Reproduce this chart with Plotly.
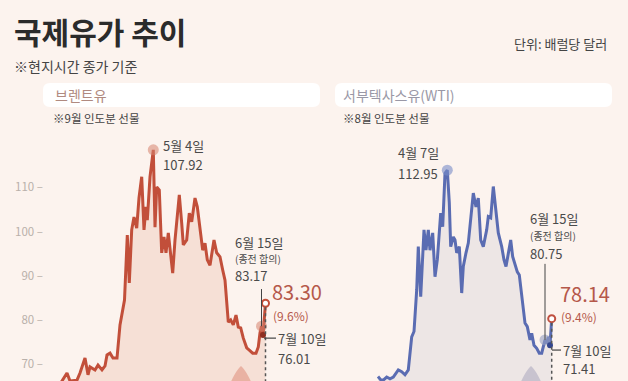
import plotly.graph_objects as go

W, H = 628, 381

# ---- data (x = horizontal trading-day position, y = USD per barrel) ----
brent_x = [11, 19, 23, 26, 33, 36, 41, 44, 46, 51, 54, 58, 61, 63, 66, 69, 73, 76, 78, 80.5,
           83.3, 85.3, 87.7, 90, 92.7, 95, 97.7, 100, 102, 103.3, 106, 109.3, 111, 112.7, 115.3,
           117.7, 120, 122, 124.3, 126.7, 128.7, 131, 135.3, 137.7, 139.3, 142.7, 145.3, 147.7,
           151, 153.3, 156, 158.7, 161, 163.3, 166, 170, 172.7, 176, 178.7, 181, 184.3, 186.7,
           189.3, 192, 194.3, 196.7, 199.3, 202.7, 205.3, 208.7, 212, 214.3, 216, 217.5, 219, 221.5]
brent_y = [63.7, 66.4, 68.0, 66.2, 66.4, 68.0, 71.4, 67.6, 69.4, 68.7, 69.8, 68.7, 69.6, 72.1, 72.5,
           71.4, 71.4, 78.9, 81.8, 84.5, 99.2, 88.4, 100.4, 103.3, 100.8, 107.6, 112.4, 100.4, 105.6,
           102.6, 112.4, 118.5, 101.0, 110.1, 109.4, 95.2, 98.8, 95.2, 99.7, 95.2, 90.6, 98.1, 108.3,
           101.9, 97.0, 98.1, 104.2, 102.2, 107.6, 105.6, 100.4, 95.8, 97.4, 93.6, 92.4, 98.1, 95.2,
           94.3, 91.3, 89.0, 79.5, 80.0, 78.9, 81.1, 78.4, 78.2, 75.9, 73.7, 73.2, 72.5, 72.5, 73.9,
           77.1, 78.6, 76.6, 83.8]

wti_x = [43, 46, 48.3, 51.7, 55, 58.3, 63.3, 66.7, 70, 73.3, 76.7, 79, 81.7, 83.3, 85.7, 87.7, 89,
         91, 93.3, 95, 97.7, 100, 102.3, 105.7, 107.7, 110, 112.3, 114.3, 115.7, 118.3, 120, 121.7,
         124.3, 126.7, 128.3, 131, 133.3, 138.3, 141, 143.3, 145.7, 148.3, 151.7, 153.3, 155.7,
         158.3, 160.7, 163.3, 166.7, 169, 171, 173.3, 175.7, 177.7, 180, 182.3, 184.3, 186.7, 190,
         192.3, 195, 196.7, 199, 201.7, 204.3, 206.7, 208.3, 210, 211.7, 213.3, 215, 216.7]
wti_y = [67.2, 66.4, 66.4, 67.1, 66.7, 67.1, 68.7, 68.3, 67.6, 68.7, 76.2, 77.4, 86.8, 96.6, 85.3,
         95.2, 100.4, 95.8, 100.4, 95.8, 99.7, 89.8, 93.6, 104.2, 101.1, 113.2, 113.9, 106.5, 96.6,
         98.8, 98.1, 95.2, 96.6, 86.1, 92.1, 95.2, 97.4, 108.7, 105.6, 107.6, 98.1, 96.6, 100.4,
         103.4, 103.1, 110.2, 105.6, 99.7, 96.6, 93.6, 92.1, 95.2, 98.1, 94.3, 92.8, 90.9, 90.2,
         85.3, 79.3, 78.5, 75.5, 77.0, 74.3, 73.6, 72.5, 72.5, 74.0, 75.5, 74.7, 76.2, 74.3, 80.3]

# highlighted points: peak, 6/15 (ceasefire), 7/10, latest
brent_peak = (109.3, 118.5)
brent_jun15 = (217.5, 78.6)
brent_jul10 = (219, 76.6)
brent_last = (221.5, 83.8)
wti_peak = (112.3, 113.9)
wti_jun15 = (210, 75.5)
wti_jul10 = (215, 74.3)
wti_last = (216.7, 80.3)

y_tick_vals = [70, 80, 90, 100, 110]
y_tick_text = [f"{v} –" for v in y_tick_vals]

BG = "#fcf3ee"
BRENT = "#c24f3a"
BRENT_FILL = "#f6e0d6"
WTI = "#5a6cb2"
WTI_FILL = "#ede6e5"
TXT = "#4a4a4a"
RED_TXT = "#b5584a"
FONT = "Noto Sans CJK KR"


def px(x):
    return x / W


def py(y):
    return 1 - y / H


fig = go.Figure()

fig.add_trace(go.Scatter(x=brent_x, y=brent_y, mode="lines", fill="tozeroy",
                         fillcolor=BRENT_FILL, line=dict(color=BRENT, width=3),
                         xaxis="x", yaxis="y", hoverinfo="skip"))
fig.add_trace(go.Scatter(x=wti_x, y=wti_y, mode="lines", fill="tozeroy",
                         fillcolor=WTI_FILL, line=dict(color=WTI, width=3),
                         xaxis="x2", yaxis="y2", hoverinfo="skip"))


def pt(p, xa, ya, color, size, line_color=None, symbol="circle"):
    fig.add_trace(go.Scatter(x=[p[0]], y=[p[1]], mode="markers", xaxis=xa, yaxis=ya,
                             marker=dict(color=color, size=size, symbol=symbol,
                                         line=dict(color=line_color or color, width=2 if line_color else 0)),
                             hoverinfo="skip"))


pt(brent_peak, "x", "y", "rgba(214,130,110,0.55)", 11)
pt(brent_jun15, "x", "y", "rgba(214,130,110,0.55)", 11)
pt(brent_jul10, "x", "y", "#8e2f22", 6)
pt(brent_last, "x", "y", "white", 7, BRENT)
pt(wti_peak, "x2", "y2", "rgba(120,140,200,0.6)", 11)
pt(wti_jun15, "x2", "y2", "rgba(150,160,195,0.6)", 11)
pt(wti_jul10, "x2", "y2", "#34468e", 6)
pt(wti_last, "x2", "y2", "white", 7, "#c05040")

shapes = []


def rbox(x0, y0, x1, y1, r, color):
    X0, X1 = px(x0), px(x1)
    Y0, Y1 = py(y1), py(y0)
    rx, ry = r / W, r / H
    path = (f"M {X0+rx},{Y0} L {X1-rx},{Y0} Q {X1},{Y0} {X1},{Y0+ry} L {X1},{Y1-ry} "
            f"Q {X1},{Y1} {X1-rx},{Y1} L {X0+rx},{Y1} Q {X0},{Y1} {X0},{Y1-ry} "
            f"L {X0},{Y0+ry} Q {X0},{Y0} {X0+rx},{Y0} Z")
    shapes.append(dict(type="path", path=path, xref="paper", yref="paper",
                       fillcolor=color, line=dict(width=0), layer="below"))


rbox(43, 83, 320, 107, 7, "white")
rbox(335, 83, 612, 107, 7, "white")


def drop(cx, color):
    pts = [(cx - 11, 384), (cx - 7, 374), (cx - 3, 369), (cx, 366), (cx + 3, 369), (cx + 7, 374), (cx + 11, 384)]
    path = f"M {px(pts[0][0])},{py(pts[0][1])} C {px(pts[1][0])},{py(pts[1][1])} {px(pts[2][0])},{py(pts[2][1])} {px(pts[3][0])},{py(pts[3][1])} " \
           f"C {px(pts[4][0])},{py(pts[4][1])} {px(pts[5][0])},{py(pts[5][1])} {px(pts[6][0])},{py(pts[6][1])} Z"
    shapes.append(dict(type="path", path=path, xref="paper", yref="paper",
                       fillcolor=color, line=dict(width=0)))


drop(241, "#e9b2a3")
drop(531, "#c8c3cf")

# connector / guide lines
shapes.append(dict(type="line", xref="x", yref="y", x0=brent_jun15[0], x1=brent_jun15[0], y0=87.0, y1=brent_jun15[1],
                   line=dict(color="#444", width=1)))
shapes.append(dict(type="line", xref="x2", yref="y2", x0=wti_jun15[0], x1=wti_jun15[0], y0=92.7, y1=wti_jun15[1],
                   line=dict(color="#444", width=1)))
shapes.append(dict(type="line", xref="x", yref="y", x0=brent_last[0], x1=brent_last[0], y0=brent_last[1] - 0.9, y1=55,
                   line=dict(color="#555", width=1.5, dash="dot")))
shapes.append(dict(type="line", xref="x2", yref="y2", x0=wti_last[0], x1=wti_last[0], y0=wti_last[1] - 0.9, y1=55,
                   line=dict(color="#555", width=1.5, dash="dot")))
shapes.append(dict(type="line", xref="x", yref="y", x0=brent_jul10[0] + 1, x1=232, y0=75.9, y1=75.9,
                   line=dict(color="#444", width=1.2)))
shapes.append(dict(type="line", xref="x2", yref="y2", x0=wti_jul10[0] + 2, x1=226, y0=73.2, y1=73.2,
                   line=dict(color="#444", width=1.2)))

ann = []


def txt(s, x, y, size, color=TXT, anchor="left", bold=False, family=FONT):
    ann.append(dict(text=f"<b>{s}</b>" if bold else s, x=px(x), y=py(y), xref="paper", yref="paper",
                    xanchor=anchor, yanchor="middle", showarrow=False,
                    font=dict(size=size, color=color, family=family)))


txt("국제유가 추이", 12, 31, 30, "#2b2b2b", bold=True)
txt("※현지시간 종가 기준", 12, 66, 14, "#444")
txt("단위: 배럴당 달러", 609, 44, 13, "#444", anchor="right")
txt("브렌트유", 53, 95, 14, "#b08a80")
txt("서부텍사스유(WTI)", 341, 95, 14, "#9a98a6")
txt("※9월 인도분 선물", 51, 118, 11.5, "#444")
txt("※8월 인도분 선물", 341, 118, 11.5, "#444")

txt("5월 4일", 161, 145, 13)
txt("107.92", 161, 164, 13)
txt("6월 15일", 233, 242, 13)
txt("(종전 합의)", 233, 258.5, 10)
txt("83.17", 233, 275, 13)
txt("83.30", 270, 291, 20, RED_TXT)
txt("(9.6%)", 271, 315, 12, RED_TXT)
txt("7월 10일", 276, 338, 13)
txt("76.01", 276, 358, 13)

txt("4월 7일", 396, 153, 13)
txt("112.95", 396, 173, 13)
txt("6월 15일", 528, 218, 13)
txt("(종전 합의)", 528, 235, 10)
txt("80.75", 528, 253, 13)
txt("78.14", 558, 293, 20, RED_TXT)
txt("(9.4%)", 559, 316, 12, RED_TXT)
txt("7월 10일", 561, 350, 13)
txt("71.41", 561, 368, 13)

axis_off = dict(showgrid=False, zeroline=False, showline=False, showticklabels=False, ticks="")
yrange = [66.2, 152.4]

fig.update_layout(
    width=W, height=H,
    margin=dict(l=0, r=0, t=0, b=0),
    paper_bgcolor=BG, plot_bgcolor="rgba(0,0,0,0)",
    showlegend=False,
    font=dict(family=FONT),
    xaxis=dict(domain=[px(44), px(320)], range=[0, 276], **axis_off),
    xaxis2=dict(domain=[px(335), px(612)], range=[0, 277], **axis_off),
    yaxis=dict(domain=[0, 1], range=yrange, showgrid=False, zeroline=False, showline=False,
               tickvals=y_tick_vals, ticktext=y_tick_text, ticks="",
               tickfont=dict(size=11.5, color="#b9b0aa", family=FONT), anchor="x"),
    yaxis2=dict(domain=[0, 1], range=yrange, anchor="x2", **axis_off),
    shapes=shapes,
    annotations=ann,
)

fig.write_html("out.html")
